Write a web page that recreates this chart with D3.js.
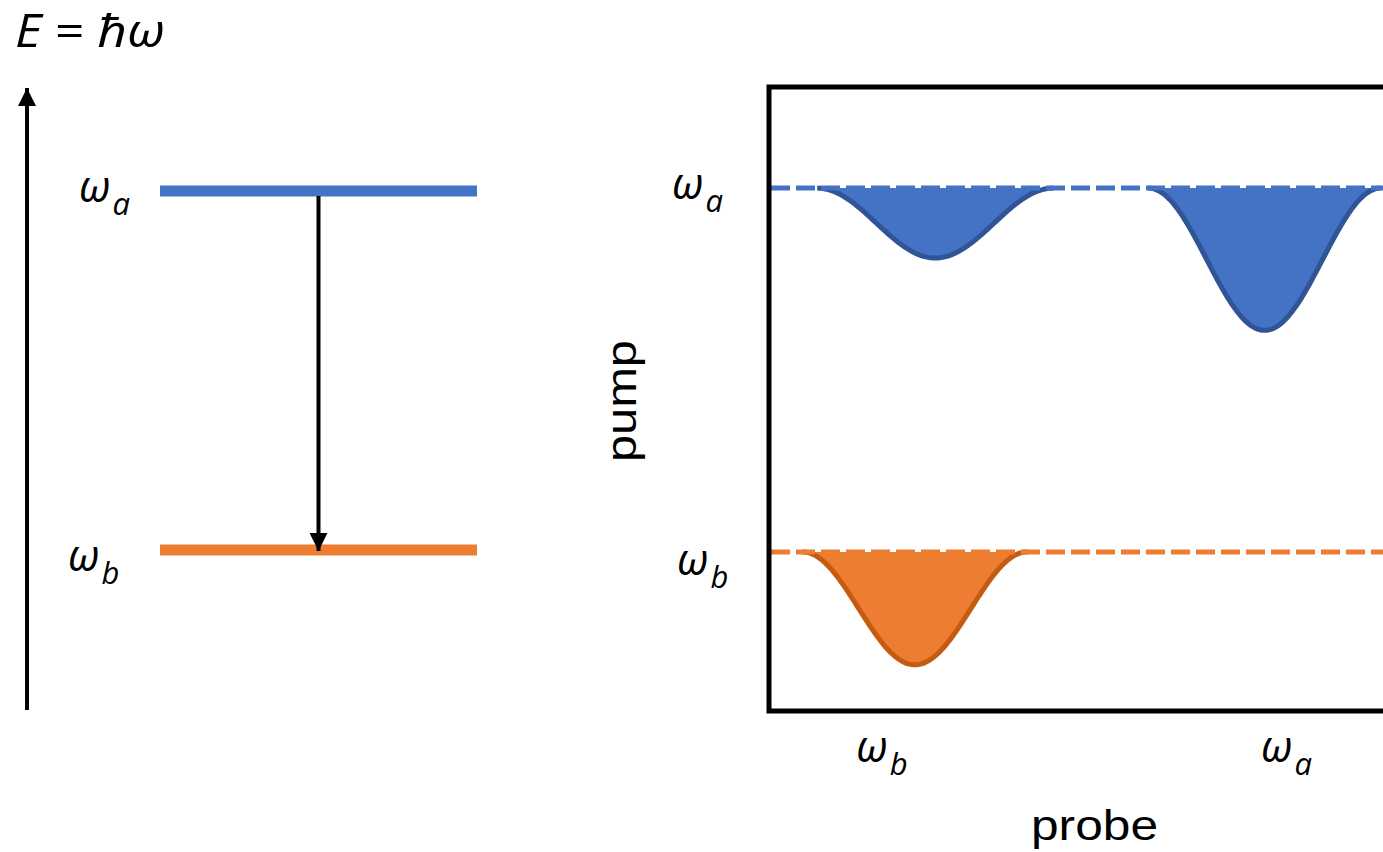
<!DOCTYPE html>
<html>
<head>
<meta charset="utf-8">
<script src="https://cdn.jsdelivr.net/npm/d3@7"></script>
<style>
  body { margin: 0; background: #fff; }
  svg { display: block; font-family: "Open Sans", "Noto Sans", sans-serif; }
</style>
</head>
<body>
<svg id="chart" width="1383" height="852"></svg>
<script>
// levels (energy / pump axis units, 0-100)
var levelNames = ["a", "b"];
var levelValues = [83.8, 25.5];
var levelColors = ["#4472C4", "#ED7D31"];
var levelStroke = ["#2F5597", "#C55A11"];

// probe axis tick positions (0-100 units)
var probeTicks = ["b", "a"];
var probeTickValues = [18, 83.5];

// 2D spectrum dips: pump row, probe centre, half width, depth
var dipRow = [0, 0, 1];
var dipCenter = [26.9, 80.2, 23.6];
var dipWidth = [19.1, 18.8, 18.2];
var dipDepth = [11.2, 22.8, 18.1];

function render() {
    var svg = d3.select("#chart");
    svg.selectAll("*").remove();

    var defs = svg.append("defs");
    defs.append("marker")
        .attr("id", "head")
        .attr("viewBox", "0 0 10 10")
        .attr("refX", 10).attr("refY", 5)
        .attr("markerUnits", "userSpaceOnUse")
        .attr("markerWidth", 18).attr("markerHeight", 18)
        .attr("orient", "auto")
      .append("path").attr("d", "M0,0 L10,5 L0,10 z").attr("fill", "#000");

    // ---------- left: energy diagram ----------
    var ey = d3.scaleLinear().domain([0, 100]).range([711, 87]);
    var lx = d3.scaleLinear().domain([0, 1]).range([160, 477]);

    svg.append("line")
        .attr("x1", 27).attr("x2", 27)
        .attr("y1", 710).attr("y2", 88)
        .attr("stroke", "#000").attr("stroke-width", 4)
        .attr("marker-end", "url(#head)");

    var e = svg.append("text")
        .attr("x", 15).attr("y", 47)
        .attr("font-size", 45)
        .attr("textLength", 150).attr("lengthAdjust", "spacingAndGlyphs");
    e.append("tspan").attr("font-style", "italic").text("E");
    e.append("tspan").text(" = ");
    e.append("tspan").attr("font-style", "italic").text("\u210F\u03C9");

    svg.selectAll(".level")
        .data(levelValues)
        .enter().append("line")
        .attr("class", "level")
        .attr("x1", lx(0)).attr("x2", lx(1))
        .attr("y1", function(d) { return ey(d) + (d > 50 ? 3 : -2); })
        .attr("y2", function(d) { return ey(d) + (d > 50 ? 3 : -2); })
        .attr("stroke", function(d, i) { return levelColors[i]; })
        .attr("stroke-width", 11);

    svg.append("line")
        .attr("x1", lx(0.5)).attr("x2", lx(0.5))
        .attr("y1", ey(levelValues[0]) + 8)
        .attr("y2", ey(levelValues[1]) - 1)
        .attr("stroke", "#000").attr("stroke-width", 4)
        .attr("marker-end", "url(#head)");

    function omega(g, x, y, sub) {
        var t = g.append("text")
            .attr("x", x).attr("y", y)
            .attr("font-size", 43).attr("font-style", "italic");
        t.append("tspan").text("\u03C9");
        t.append("tspan").attr("font-size", 31).attr("dx", 2).attr("dy", 13).text(sub);
    }

    levelValues.forEach(function(v, i) {
        omega(svg, 79 - (i * 11), ey(v) + 14 + i * 5, levelNames[i]);
    });

    // ---------- right: 2D spectrum ----------
    var px = d3.scaleLinear().domain([0, 100]).range([769, 1387]);
    var py = d3.scaleLinear().domain([0, 100]).range([711, 87]);
    var depth = d3.scaleLinear().domain([0, 100]).range([0, 624]);

    // dips
    dipCenter.forEach(function(c, i) {
        var row = dipRow[i];
        var base = py(levelValues[row]);
        var pts = d3.range(-1, 1.0001, 0.02).map(function(s) {
            var k = Math.cos(s * Math.PI / 2);
            return [c + s * dipWidth[i], dipDepth[i] * k * k];
        });
        var area = d3.area()
            .x(function(d) { return px(d[0]); })
            .y0(base)
            .y1(function(d) { return base + depth(d[1]); });
        var line = d3.line()
            .x(function(d) { return px(d[0]); })
            .y(function(d) { return base + depth(d[1]); });
        svg.append("path").attr("d", area(pts))
            .attr("fill", levelColors[row]);
        svg.append("path").attr("d", line(pts))
            .attr("fill", "none")
            .attr("stroke", levelStroke[row]).attr("stroke-width", 5);
    });

    // dashed diagonal markers
    svg.selectAll(".dash")
        .data(levelValues)
        .enter().append("line")
        .attr("x1", 771).attr("x2", 1383)
        .attr("y1", function(d) { return py(d); })
        .attr("y2", function(d) { return py(d); })
        .attr("stroke", function(d, i) { return levelColors[i]; })
        .attr("stroke-width", 5)
        .attr("stroke-dasharray", "19,6");

    svg.append("rect")
        .attr("x", px(0)).attr("y", py(100))
        .attr("width", px(100) - px(0)).attr("height", py(0) - py(100))
        .attr("fill", "none").attr("stroke", "#000").attr("stroke-width", 5);

    levelValues.forEach(function(v, i) {
        omega(svg, 672 + i * 5, py(v) + 11 + i * 12, levelNames[i]);
    });
    probeTickValues.forEach(function(v, i) {
        omega(svg, px(v) - 24, 762, probeTicks[i]);
    });

    svg.append("text")
        .attr("x", 1031).attr("y", 840)
        .attr("font-family", "'Liberation Sans', Arial, sans-serif")
        .attr("font-size", 43)
        .attr("textLength", 127).attr("lengthAdjust", "spacingAndGlyphs")
        .text("probe");

    svg.append("text")
        .attr("transform", "translate(636,462) rotate(-90)")
        .attr("font-family", "'Liberation Sans', Arial, sans-serif")
        .attr("font-size", 43)
        .attr("textLength", 122).attr("lengthAdjust", "spacingAndGlyphs")
        .text("pump");
}

render();
</script>
</body>
</html>
